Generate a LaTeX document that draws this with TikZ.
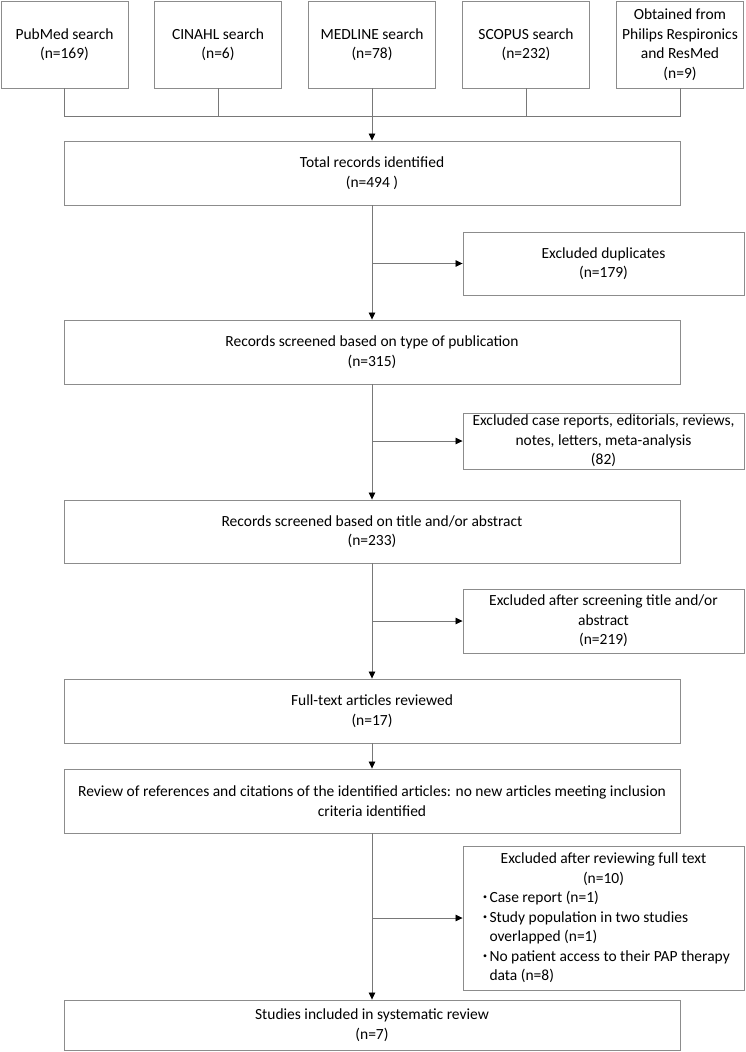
\documentclass[tikz,border=0pt]{standalone}
\usepackage{fontspec}
\setmainfont{Carlito}
\usetikzlibrary{arrows.meta}
\definecolor{boxgray}{RGB}{140,140,140}
\definecolor{linegray}{RGB}{120,120,120}
\newcommand{\mybul}{\llap{\raisebox{3pt}{\fontsize{8}{8}\selectfont\textbullet}\hspace{2.5pt}}}
\tikzset{
  box/.style={draw=boxgray, line width=0.9pt, rectangle, align=center, inner sep=0pt,
    font=\fontsize{15.5}{19.5}\selectfont, text=black},
  topbox/.style={box, minimum width=127pt, minimum height=87pt},
  widebox/.style={box, minimum width=616pt, minimum height=64pt},
  sidebox/.style={box, minimum width=281pt, minimum height=63pt},
  conn/.style={draw=linegray, line width=0.8pt},
  arr/.style={conn, -{Triangle[length=7pt,width=6.5pt,fill=black,color=black]}},
}
\begin{document}
\begin{tikzpicture}[x=1pt,y=-1pt]
\useasboundingbox (0,0) rectangle (745,1052);
% top sources
\node[topbox] (b1) at (64.5,44.5) {PubMed search\\(n=169)};
\node[topbox] (b2) at (218,44.5) {CINAHL search\\(n=6)};
\node[topbox] (b3) at (372,44.5) {MEDLINE search\\(n=78)};
\node[topbox] (b4) at (526,44.5) {SCOPUS search\\(n=232)};
\node[topbox] (b5) at (680,44.5) {Obtained from\\Philips Respironics\\and ResMed\\(n=9)};
\coordinate (j) at (372,116);
% main column
\node[widebox] (total) at (372,173) {Total records identified\\(n=494 )};
\node[widebox] (rec1) at (372,352) {Records screened based on type of publication\\(n=315)};
\node[widebox, minimum height=63pt] (rec2) at (372,531.5) {Records screened based on title and/or abstract\\(n=233)};
\node[widebox] (full) at (372,711) {Full-text articles reviewed\\(n=17)};
\node[widebox] (review) at (372,801) {Review of references and citations of the identified articles: no new articles meeting inclusion\\criteria identified};
\node[widebox, minimum height=50pt] (final) at (372,1025) {Studies included in systematic review\\(n=7)};
% side boxes
\node[sidebox] (ex1) at (603.5,263.5) {Excluded duplicates\\(n=179)};
\node[sidebox, minimum height=56pt] (ex2) at (603.5,441) {Excluded case reports, editorials, reviews,\\notes, letters, meta-analysis\\(82)};
\node[sidebox, minimum height=64pt] (ex3) at (603.5,621) {Excluded after screening title and/or\\abstract\\(n=219)};
\node[sidebox, minimum height=144pt] (ex4) at (603.5,918) {\begin{minipage}{271pt}
\centering Excluded after reviewing full text\\(n=10)\par
\raggedright
\leftskip=21.5pt\noindent\mybul Case report (n=1)\par
\noindent\mybul Study population in two studies\\overlapped (n=1)\par
\noindent\mybul No patient access to their PAP therapy\\data (n=8)\par
\end{minipage}};
% connectors from sources
\draw[conn] (b1.south) -- (b1.south |- j) -- (b5.south |- j) -- (b5.south);
\draw[conn] (b2.south) -- (b2.south |- j);
\draw[conn] (b4.south) -- (b4.south |- j);
\draw[arr] (b3.south) -- (total.north);
% main flow
\draw[arr] (total.south) -- (rec1.north);
\draw[arr] (rec1.south) -- (rec2.north);
\draw[arr] (rec2.south) -- (full.north);
\draw[arr] (full.south) -- (review.north);
\draw[arr] (review.south) -- (final.north);
% exclusions
\draw[arr] (total.south |- ex1.west) -- (ex1.west);
\draw[arr] (rec1.south |- ex2.west) -- (ex2.west);
\draw[arr] (rec2.south |- ex3.west) -- (ex3.west);
\draw[arr] (review.south |- ex4.west) -- (ex4.west);
\end{tikzpicture}
\end{document}
